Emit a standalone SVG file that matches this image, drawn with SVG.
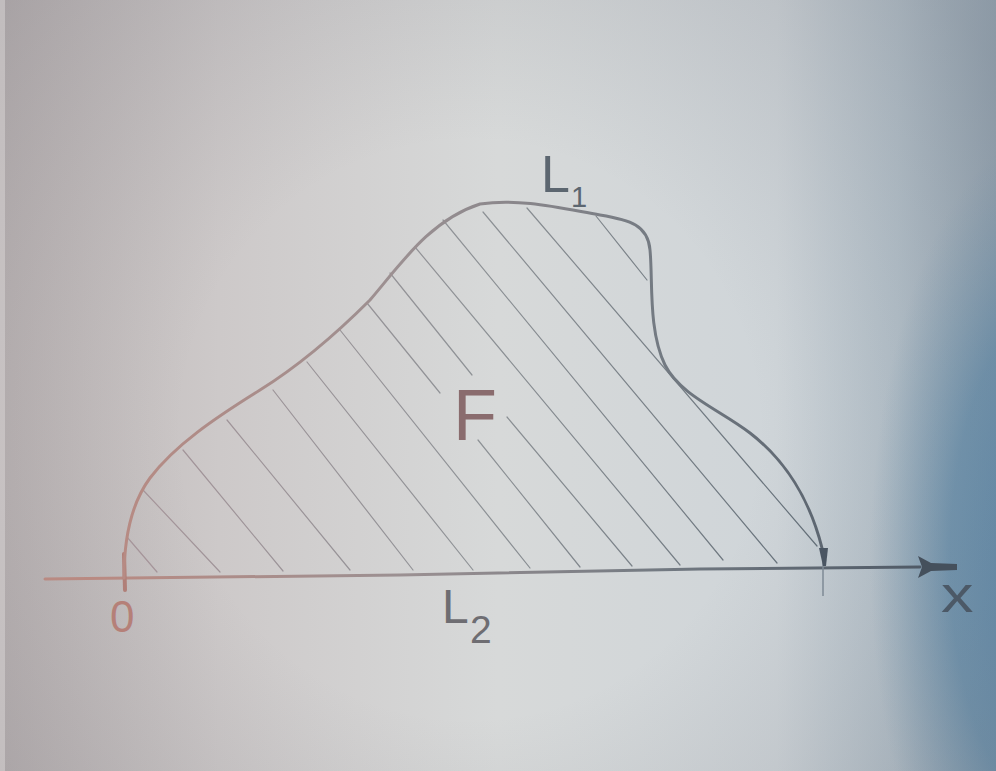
<svg xmlns="http://www.w3.org/2000/svg" width="996" height="771" viewBox="0 0 996 771">
  <defs>
    <linearGradient id="bgH" x1="0" y1="0" x2="1" y2="0">
      <stop offset="0" stop-color="#bdb6b6"/>
      <stop offset="0.22" stop-color="#cdc9c9"/>
      <stop offset="0.5" stop-color="#d7d9d9"/>
      <stop offset="0.78" stop-color="#cfd5d9"/>
      <stop offset="0.9" stop-color="#b6c3cc"/>
      <stop offset="1" stop-color="#9aabb8"/>
    </linearGradient>
    <radialGradient id="vig" gradientUnits="userSpaceOnUse" cx="470" cy="430" r="640">
      <stop offset="0.45" stop-color="#5a5a64" stop-opacity="0"/>
      <stop offset="1" stop-color="#5a5a64" stop-opacity="0.22"/>
    </radialGradient>
    <radialGradient id="blue" gradientUnits="userSpaceOnUse" cx="1070" cy="560" r="200" gradientTransform="translate(1070,560) scale(1,2.2) translate(-1070,-560)">
      <stop offset="0" stop-color="#5a8aaf" stop-opacity="1"/>
      <stop offset="0.6" stop-color="#6a93b0" stop-opacity="0.85"/>
      <stop offset="1" stop-color="#7f9fb5" stop-opacity="0"/>
    </radialGradient>
    <linearGradient id="ink" gradientUnits="userSpaceOnUse" x1="100" y1="0" x2="960" y2="0">
      <stop offset="0" stop-color="#b98a82"/>
      <stop offset="0.35" stop-color="#9b9092"/>
      <stop offset="0.65" stop-color="#737a82"/>
      <stop offset="1" stop-color="#4a5562"/>
    </linearGradient>
    <linearGradient id="hatchInk" gradientUnits="userSpaceOnUse" x1="100" y1="0" x2="850" y2="0">
      <stop offset="0" stop-color="#a8959a"/>
      <stop offset="0.5" stop-color="#8e9296"/>
      <stop offset="1" stop-color="#5f6b75"/>
    </linearGradient>
  </defs>
  <style>
    .hatch { stroke: url(#hatchInk); stroke-width: 1.2; fill: none; stroke-linecap: round; }
    .curve { stroke: url(#ink); stroke-width: 3; fill: none; stroke-linecap: round; stroke-linejoin: round; }
    .axis { stroke: url(#ink); stroke-width: 3; fill: none; stroke-linecap: round; }
    .lbl { font-family: "Liberation Sans", Arial, sans-serif; }
  </style>

  <g id="background">
    <rect x="0" y="0" width="996" height="771" fill="url(#bgH)"/>
    <rect x="0" y="0" width="996" height="771" fill="url(#blue)"/>
    <rect x="0" y="0" width="996" height="771" fill="url(#vig)"/>
    <rect x="0" y="0" width="5" height="771" fill="#dcd8d8" opacity="0.5"/>
  </g>

  <g id="hatching">
    <line class="hatch" x1="127" y1="537" x2="157" y2="572"/>
    <line class="hatch" x1="143" y1="490" x2="220" y2="572"/>
    <line class="hatch" x1="183" y1="450" x2="283" y2="571"/>
    <line class="hatch" x1="227" y1="420" x2="350" y2="570"/>
    <line class="hatch" x1="273" y1="390" x2="413" y2="570"/>
    <line class="hatch" x1="307" y1="362" x2="473" y2="570"/>
    <line class="hatch" x1="340" y1="330" x2="530" y2="568"/>
    <line class="hatch" x1="367" y1="303" x2="440" y2="393"/>
    <line class="hatch" x1="478" y1="440" x2="580" y2="567"/>
    <line class="hatch" x1="390" y1="273" x2="472" y2="375"/>
    <line class="hatch" x1="507" y1="417" x2="632" y2="566"/>
    <line class="hatch" x1="415" y1="247" x2="680" y2="565"/>
    <line class="hatch" x1="443" y1="220" x2="723" y2="560"/>
    <line class="hatch" x1="483" y1="212" x2="777" y2="563"/>
    <line class="hatch" x1="527" y1="208" x2="817" y2="546"/>
    <line class="hatch" x1="596" y1="216" x2="647" y2="280"/>
  </g>

  <g id="axis">
    <path class="axis" d="M45,579 L400,575 L700,569 L920,567"/>
    <path d="M918,556 L931,563 L957,564 L957,570 L931,571 L918,578 L922,567 Z" fill="#45505c"/>
    <line x1="124" y1="554" x2="125" y2="590" stroke="#b07f78" stroke-width="4" stroke-linecap="round"/>
    <line x1="823" y1="548" x2="823" y2="596" stroke="#7e8a95" stroke-width="1.5"/>
  </g>

  <g id="curve-L1">
    <path class="curve" d="M124,578 C124,540 130,505 150,478 C175,445 215,418 260,390 C305,362 340,330 370,300 C400,265 430,220 480,204 C520,198 560,208 600,215 C630,220 648,225 650,250 C653,280 648,330 665,365 C680,395 720,410 750,433 C785,460 810,500 822,548"/>
    <path d="M819,548 L828,548 L826,566 L823,566 Z" fill="#4a5562"/>
  </g>

  <g id="labels">
    <text class="lbl" x="541" y="192" font-size="52" fill="#5c6670">L</text>
    <text class="lbl" x="571" y="207" font-size="29" fill="#5c6670">1</text>
    <text class="lbl" x="453" y="440" font-size="72" fill="#8a6c6e">F</text>
    <text class="lbl" x="442" y="623" font-size="48" fill="#6e6d72">L</text>
    <text class="lbl" x="470" y="643" font-size="39" fill="#6e6d72">2</text>
    <text class="lbl" x="110" y="632" font-size="44" fill="#b58078">0</text>
    <text class="lbl" x="941" y="612" font-size="50" fill="#4c5967" transform="translate(941,0) scale(1.3,1) translate(-941,0)">x</text>
  </g>
</svg>
